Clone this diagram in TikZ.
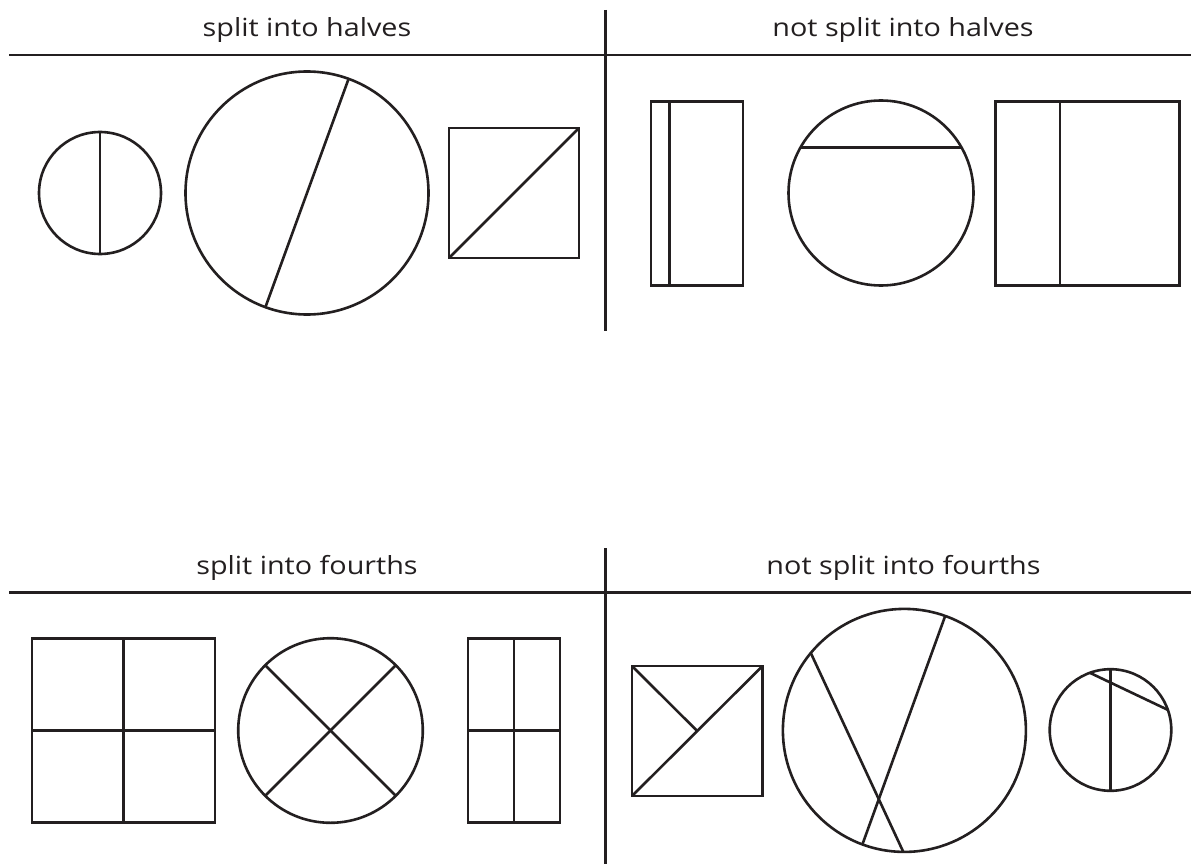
\documentclass[tikz,border=0pt]{standalone}
\usepackage{fontspec}
\setmainfont{Open Sans}[FakeStretch=1.15]
\definecolor{ink}{HTML}{231F20}
\begin{document}
\begin{tikzpicture}[x=1pt,y=-1pt,line width=2.6pt,
  every path/.style={draw=ink},
  title/.style={anchor=base,inner sep=0pt,text=ink,font=\fontsize{25}{30}\selectfont}]
\useasboundingbox[fill=white,draw=none] (0,0) rectangle (1191,864);
% titles
\node[title] (th)  at (307,36.7) {split into halves};
\node[title] (tnh) at (903,36.7) {not split into halves};
\node[title] (tf)  at (307,574.5) {split into fourths};
\node[title] (tnf) at (903.5,574.5) {not split into fourths};
% rules
\coordinate (h1a) at (9,55);   \coordinate (h1b) at (1191,55);
\coordinate (h2a) at (9,592.5); \coordinate (h2b) at (1191,592.5);
\coordinate (v1a) at (605.5,10);  \coordinate (v1b) at (605.5,331);
\coordinate (v2a) at (605.5,548); \coordinate (v2b) at (605.5,864);
\draw (h1a) -- (h1b);
\draw (h2a) -- (h2b);
\draw (v1a) -- (v1b);
\draw (v2a) -- (v2b);
% ---- split into halves
\draw (100,193) circle[radius=61];
\draw (100,132) -- (100,254);
\draw (307,193) circle[radius=121.5];
\draw (348.6,78.8) -- (265.4,307.2);
\draw (449,128) rectangle (579,258);
\draw (449,258) -- (579,128);
% ---- not split into halves
\draw (651,101.5) rectangle (743,285.5);
\draw (669.5,101.5) -- (669.5,285.5);
\draw (881,193) circle[radius=92.5];
\draw (800.4,147.7) -- (961.6,147.7);
\draw (995.5,101.5) rectangle (1179.5,285.5);
\draw (1060,101.5) -- (1060,285.5);
% ---- split into fourths
\draw (32,638.5) rectangle (215,822.5);
\draw (123.5,638.5) -- (123.5,822.5);
\draw (32,730.5) -- (215,730.5);
\draw (330.5,730.5) circle[radius=92.3];
\draw (265.2,665.2) -- (395.8,795.8);
\draw (395.8,665.2) -- (265.2,795.8);
\draw (468,638.5) rectangle (560,822.5);
\draw (514,638.5) -- (514,822.5);
\draw (468,730.5) -- (560,730.5);
% ---- not split into fourths
\draw (632,666) rectangle (762.5,796);
\draw (632,796) -- (762.5,666);
\draw (632,666) -- (697.2,731);
\draw (904.4,730.4) circle[radius=121.5];
\draw (810.8,653.0) -- (903.3,851.9);
\draw (945.2,615.9) -- (862.4,844.4);
\draw (1110.5,730) circle[radius=60.8];
\draw (1110.5,669.2) -- (1110.5,790.8);
\draw (1089.9,672.8) -- (1167.9,709.9);
\end{tikzpicture}
\end{document}
